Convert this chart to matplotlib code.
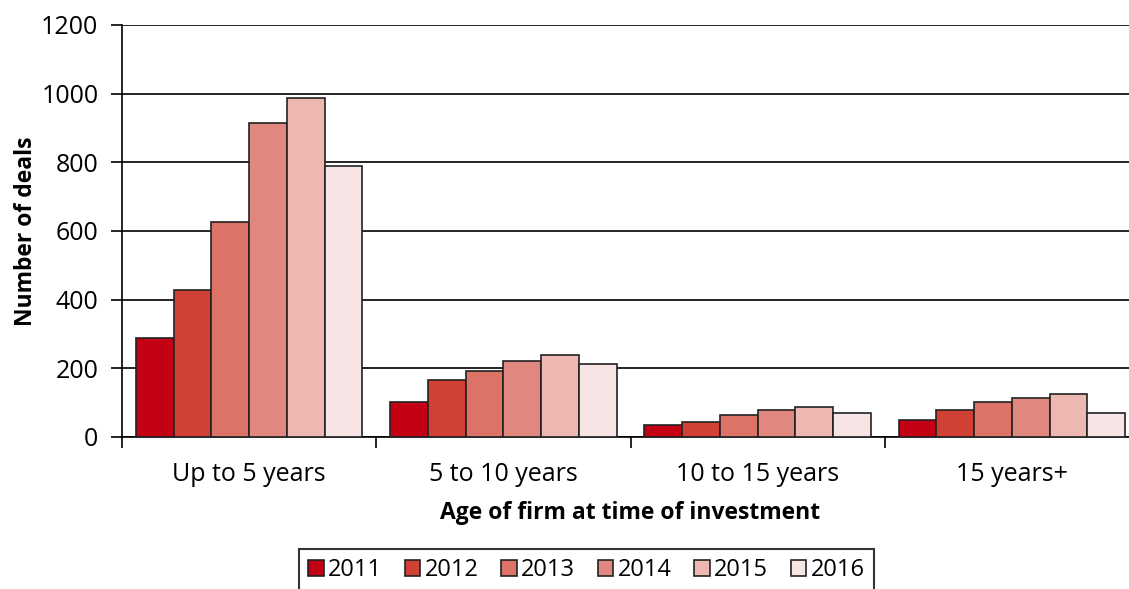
import matplotlib
matplotlib.use('Agg')
import matplotlib.pyplot as plt
import numpy as np

# 数据
categories = ['Up to 5 years', '5 to 10 years', '10 to 15 years', '15 years+']
years = ['2011', '2012', '2013', '2014', '2015', '2016']
deals_2011 = [288, 102, 34, 49]
deals_2012 = [428, 165, 44, 80]
deals_2013 = [626, 192, 63, 103]
deals_2014 = [916, 221, 80, 114]
deals_2015 = [988, 238, 86, 125]
deals_2016 = [790, 212, 71, 70]
yticks = [0, 200, 400, 600, 800, 1000, 1200]

colors = ['#C40015', '#D04035', '#DC7366', '#E08880', '#EDB8B2', '#F7E4E5']
series = [deals_2011, deals_2012, deals_2013, deals_2014, deals_2015, deals_2016]

plt.rcParams['font.family'] = ['Open Sans', 'DejaVu Sans']

fig = plt.figure(figsize=(11.29, 5.89), dpi=100)
# 右侧被裁掉，所以 axes 超出画布
ax = fig.add_axes([122 / 1129, 1 - 437 / 589, (1139 - 122) / 1129, (437 - 25) / 589])

x = np.arange(len(categories))
bar_w = 0.89 / 6
for i, (vals, col, yr) in enumerate(zip(series, colors, years)):
    ax.bar(x + (i - 2.5) * bar_w, vals, width=bar_w, color=col,
           edgecolor='#222222', linewidth=1.2, label=yr, zorder=3)

ax.set_xlim(-0.5, 3.5)
ax.set_ylim(0, 1200)
ax.set_yticks(yticks)
ax.tick_params(axis='y', direction='out', length=8, width=1.2, labelsize=18, pad=9)
ax.yaxis.grid(True, color='black', linewidth=1.2, zorder=0)
ax.set_axisbelow(True)

# x 轴：刻度在类别边界，标签在中间
ax.set_xticks(np.arange(-0.5, 4.0, 1.0))
ax.set_xticklabels([])
ax.set_xticks(x, minor=True)
ax.set_xticklabels(categories, minor=True, fontsize=18)
ax.tick_params(axis='x', which='major', direction='out', length=8, width=1.2)
ax.tick_params(axis='x', which='minor', length=0, pad=18)

for s in ['top', 'right']:
    ax.spines[s].set_visible(False)
ax.spines['left'].set_linewidth(1.2)
ax.spines['bottom'].set_linewidth(1.2)

ax.set_ylabel('Number of deals', fontsize=16.5, fontweight='bold', labelpad=2)
ax.set_xlabel('Age of firm at time of investment', fontsize=16.5, fontweight='bold', labelpad=10)

leg = fig.legend(loc='upper center', bbox_to_anchor=(0.5195, 1 - 549 / 589), ncol=6,
                 fontsize=17, frameon=True, fancybox=False, edgecolor='black',
                 handlelength=0.65, handleheight=0.65, handletextpad=0.2,
                 columnspacing=0.95, borderpad=0.4, borderaxespad=0)
leg.get_frame().set_linewidth(1.5)

fig.savefig('out.png', dpi=100)
